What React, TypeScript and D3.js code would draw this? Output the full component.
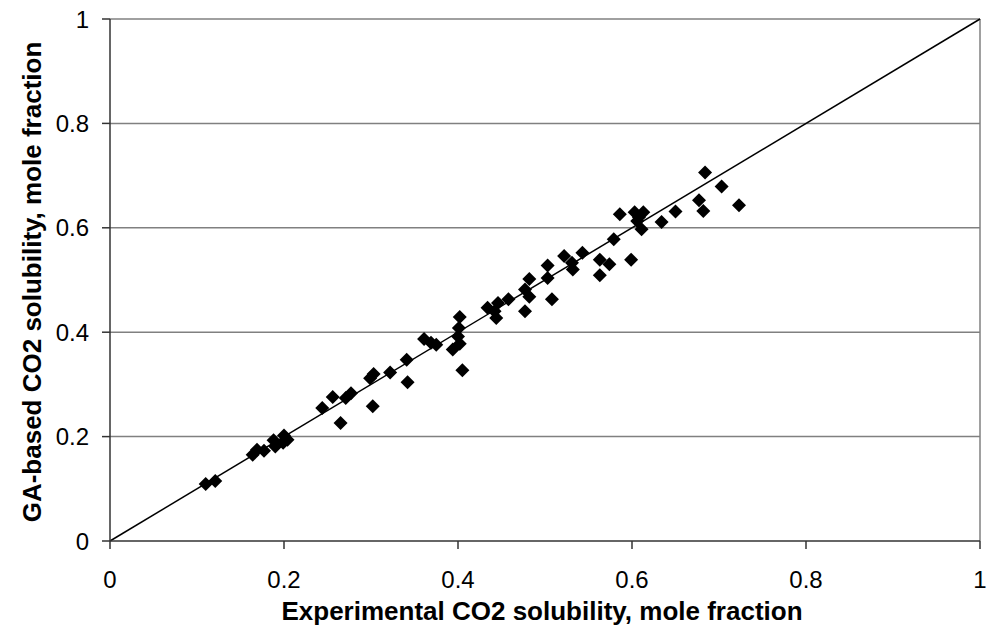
import React from "react";
import * as d3 from "d3";

const experimental: number[] = [
  0.110, 0.121, 0.164, 0.169, 0.177, 0.188, 0.190, 0.200, 0.204, 0.199,
  0.244, 0.256, 0.265, 0.271, 0.277, 0.299, 0.303, 0.302, 0.322, 0.341,
  0.342, 0.361, 0.369, 0.375, 0.394, 0.402, 0.401, 0.400, 0.402, 0.405,
  0.434, 0.442, 0.444, 0.446, 0.458, 0.477, 0.482, 0.482, 0.477, 0.503,
  0.503, 0.508, 0.522, 0.531, 0.532, 0.543, 0.563, 0.563, 0.574, 0.579,
  0.586, 0.599, 0.603, 0.613, 0.606, 0.611, 0.608, 0.634, 0.650, 0.677,
  0.682, 0.684, 0.703, 0.723,
];
const predicted: number[] = [
  0.109, 0.115, 0.165, 0.175, 0.173, 0.193, 0.181, 0.202, 0.194, 0.188,
  0.255, 0.276, 0.226, 0.274, 0.283, 0.312, 0.320, 0.258, 0.323, 0.347,
  0.304, 0.387, 0.380, 0.376, 0.367, 0.429, 0.408, 0.392, 0.378, 0.327,
  0.447, 0.440, 0.427, 0.456, 0.463, 0.482, 0.502, 0.468, 0.440, 0.528,
  0.504, 0.463, 0.546, 0.533, 0.520, 0.552, 0.509, 0.539, 0.530, 0.578,
  0.626, 0.539, 0.630, 0.630, 0.613, 0.597, 0.620, 0.611, 0.631, 0.653,
  0.632, 0.706, 0.679, 0.643,
];
const tickValues: number[] = [0, 0.2, 0.4, 0.6, 0.8, 1];
const xTitle = "Experimental CO2 solubility, mole fraction";
const yTitle = "GA-based CO2 solubility, mole fraction";

export default function App() {
  const W = 988;
  const H = 633;
  const left = 110, right = 980, top = 19, bottom = 541;
  const x = d3.scaleLinear().domain([0, 1]).range([left, right]);
  const y = d3.scaleLinear().domain([0, 1]).range([bottom, top]);
  const fmt = (v: number) => (v === 0 || v === 1 ? String(v) : d3.format(".1f")(v));
  const r = 7;
  const diamond = `M0,${-r}L${r},0L0,${r}L${-r},0Z`;
  const diag = d3.line<number>().x((d) => x(d)).y((d) => y(d))([0, 1]) || "";
  const font = "'Liberation Sans', Arial, sans-serif";

  return (
    <svg
      width={W}
      height={H}
      style={{ position: "absolute", left: 0, top: 0, background: "#fff" }}
    >
      <rect x={0} y={0} width={W} height={H} fill="#fff" />
      {tickValues.filter((t) => t > 0).map((t) => (
        <line key={"g" + t} x1={left} x2={right} y1={y(t)} y2={y(t)} stroke="#808080" strokeWidth={1.5} />
      ))}
      <line x1={right} x2={right} y1={top} y2={bottom} stroke="#808080" strokeWidth={1.5} />
      <path d={diag} stroke="#000" strokeWidth={1.5} fill="none" />
      {experimental.map((e, i) => (
        <path key={"p" + i} d={diamond} transform={`translate(${x(e)},${y(predicted[i])})`} fill="#000" />
      ))}
      <line x1={left} x2={right} y1={bottom} y2={bottom} stroke="#333" strokeWidth={1.5} />
      <line x1={left} x2={left} y1={top} y2={bottom} stroke="#333" strokeWidth={1.5} />
      {tickValues.map((t) => (
        <g key={"x" + t}>
          <line x1={x(t)} x2={x(t)} y1={bottom} y2={bottom + 8} stroke="#333" strokeWidth={1.5} />
          <text x={x(t)} y={588} textAnchor="middle" fontFamily={font} fontSize={24} fill="#000">
            {fmt(t)}
          </text>
        </g>
      ))}
      {tickValues.map((t) => (
        <g key={"y" + t}>
          <line x1={left - 8} x2={left} y1={y(t)} y2={y(t)} stroke="#333" strokeWidth={1.5} />
          <text x={89} y={y(t) + 8.6} textAnchor="end" fontFamily={font} fontSize={24} fill="#000">
            {fmt(t)}
          </text>
        </g>
      ))}
      <text x={542} y={620} textAnchor="middle" fontFamily={font} fontSize={26} fontWeight="bold" fill="#000">
        {xTitle}
      </text>
      <text
        transform={`translate(41,282) rotate(-90)`}
        textAnchor="middle"
        fontFamily={font}
        fontSize={26}
        fontWeight="bold"
        fill="#000"
      >
        {yTitle}
      </text>
    </svg>
  );
}
